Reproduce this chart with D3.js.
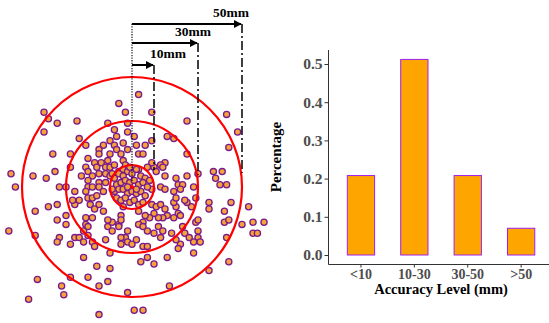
<!DOCTYPE html>
<html><head><meta charset="utf-8">
<script src="https://cdn.jsdelivr.net/npm/d3@7"></script>
<style>body{margin:0;background:#fff}svg{display:block}</style>
</head><body>
<script>
// ---------- Data ----------
// Positioning error of each trial, in mm (x to the right, y upward) relative to the target
const errorPointsMM = [
[3,42],[-6,38],[-3,34],[-2,29],[-40,34],[-38,31],[-34,29],[-25,30],[-40,25],[-11,29],[-8,26],[-10,21],[-7,23],[-4,20],[-2,25],[-24,22],[-21,19],[-13,19],[-8,19],[-15,17],[-7,17],[-5,15],[-2,17],[-4,12],[-36,15],[-28,15],[-15,15],[-11,12],[-10,15],[-20,13],[-21,9],[-17,11],[-16,9],[-14,11],[-12,9],[-10,9],[-8,10],[-3,10],[-55,6],[-45,5],[-39,4],[-35,7],[-28,9],[-23,5],[-20,7],[-18,5],[-20,3],[-15,6],[-12,6],[-10,5],[-15,2],[-12,2],[-9,6],[-6,7],[-4,8],[-53,0],[-33,0],[-30,0],[-20,0],[-18,0],
[9,34],[25,30],[43,33],[48,25],[44,18],[9,21],[16,23],[19,22],[25,15],[1,23],[3,15],[5,15],[15,11],[13,10],[10,9],[9,11],[11,7],[14,9],[15,5],[20,4],[21,1],[25,5],[30,6],[37,7],[41,7],[38,4],[40,1],[43,1],[23,1],[7,9],[3,8],
[-44,-11],[-38,-9],[-34,-8],[-34,-15],[-30,-13],[-30,-17],[-56,-20],[-44,-22],[-33,-23],[-34,-25],[-28,-26],[-26,-23],[-24,-23],[-22,-20],[-21,-17],[-22,-25],[-18,-25],[-12,-24],[-22,-32],[-16,-36],[-10,-37],[-20,-41],[-28,-41],[-43,-42],[-32,-45],[-31,-49],[-47,-51],[-11,-43],[-15,-45],[-2,-48],[-15,-58],[1,-56],[5,-56],[-26,-8],[-19,-8],[-17,-10],[-15,-8],[-21,-14],[-18,-14],[-11,-18],[-9,-16],[-9,-20],[-6,-17],[-2,-20],[-3,-23],[-2,-25],[-5,-23],[-5,-26],[0,-26],[-10,-30],[-26,-2],[-21,-2],[-15,0],[-13,-2],[-24,-6],[-20,-5],[-18,-5],[-16,-4],[-20,-18],[-20,-22],[-13,-11],[-11,-15],[-17,-27],[-5,-13],[-5,-15],[-6,-18],[-27,-6],
[35,-7],[35,-10],[45,-7],[42,-11],[53,-9],[42,-16],[44,-15],[50,-17],[55,-16],[60,-16],[55,-21],[57,-21],[43,-23],[44,-34],[35,-38],[17,-45],[30,-20],[30,-23],[31,-25],[28,-25],[28,-30],[16,-32],[10,-35],[7,-32],[4,-34],[22,-26],[21,-28],[18,-21],[23,-18],[24,-21],[29,-16],[27,-9],[29,-5],[25,-7],[24,-6],[20,-9],[19,-7],[21,-12],[19,-14],[16,-13],[14,-14],[12,-14],[10,-12],[8,-14],[6,-13],[5,-16],[7,-20],[10,-21],[13,-23],[5,-27],[20,-5],[19,-2],[22,-1],[28,0],[9,-8],[11,-9],[13,-8],[15,-10],[22,-13],[3,-11],[3,-17],[5,-18],[12,-18],[14,-20],[20,-24],[2,-24],[7,-27],[26,-23],[30,-15],[9,-1],[13,0],[15,-1],[2,19],[6,19],
[-8,4],[-6,6],[-4,5],[-2,7],[0,6],[2,8],[4,5],[6,4],[-7,1],[-5,2],[-3,3],[-1,2],[1,3],[3,1],[5,2],[7,0],[-8,-2],[-6,-1],[-4,-1],[-2,-3],[0,-2],[2,-3],[4,-2],[6,-4],[-7,-5],[-5,-6],[-3,-5],[-1,-7],[1,-6],[3,-8],[5,-7],[-9,-1],[8,3],[-1,9],[-4,-9],[-2,0],[2,-1]
];
const ringRadiiMM = [10, 30, 50];
const ringLabels = ["10mm", "30mm", "50mm"];

const categories = ["<10", "10-30", "30-50", ">50"];
const percentages = [0.208, 0.512, 0.208, 0.07];
const yTickValues = [0.0, 0.1, 0.2, 0.3, 0.4, 0.5];
const xTitle = "Accuracy Level (mm)";
const yTitle = "Percentage";

// ---------- Setup ----------
const W = 549, H = 323;
const svg = d3.select("body").append("svg").attr("width", W).attr("height", H);
const serif = "'Liberation Serif','Times New Roman',serif";

// ---------- Left: target scatter ----------
const sx = d3.scaleLinear().domain([-60, 60]).range([0, 264]);
const sy = d3.scaleLinear().domain([-60, 60]).range([319, 55]);
const cx = sx(0), cy = sy(0);

const left = svg.append("g");
left.selectAll("circle.pt").data(errorPointsMM).join("circle")
  .attr("class", "pt")
  .attr("cx", d => sx(d[0])).attr("cy", d => sy(d[1]))
  .attr("r", 3.1)
  .attr("fill", "#f2a33a").attr("stroke", "#7b1a8c").attr("stroke-width", 1.3);

left.selectAll("circle.ring").data(ringRadiiMM).join("circle")
  .attr("class", "ring")
  .attr("cx", cx).attr("cy", cy)
  .attr("r", d => sx(d) - sx(0))
  .attr("fill", "none").attr("stroke", "#ff0000").attr("stroke-width", 2.2);

left.append("circle").attr("cx", cx).attr("cy", cy).attr("r", 2).attr("fill", "#ff0000");

// arrow marker
svg.append("defs").append("marker")
  .attr("id", "ah").attr("viewBox", "0 0 10 10").attr("refX", 9).attr("refY", 5)
  .attr("markerWidth", 4).attr("markerHeight", 4).attr("orient", "auto")
  .attr("markerUnits", "strokeWidth")
  .append("path").attr("d", "M0,0 L10,5 L0,10 z").attr("fill", "#000");

// annotation layout (pixels)
const arrowY = [65, 43, 24];
const lineBottom = [170, 175, 173];
const labelX = [150, 175, 213];

// dotted line up from the centre
left.append("line").attr("x1", cx).attr("x2", cx).attr("y1", 181).attr("y2", 23)
  .attr("stroke", "#000").attr("stroke-width", 1.1).attr("stroke-dasharray", "1.3,1.3");

ringRadiiMM.forEach((r, i) => {
  const xr = sx(r);
  left.append("line").attr("x1", xr).attr("x2", xr).attr("y1", arrowY[i]).attr("y2", lineBottom[i])
    .attr("stroke", "#000").attr("stroke-width", 1.5).attr("stroke-dasharray", "9,3,2,3");
  left.append("line").attr("x1", cx).attr("x2", xr - 1).attr("y1", arrowY[i]).attr("y2", arrowY[i])
    .attr("stroke", "#000").attr("stroke-width", 2).attr("marker-end", "url(#ah)");
  left.append("text").attr("x", labelX[i]).attr("y", arrowY[i] - 7)
    .attr("text-anchor", "start")
    .attr("font-family", serif).attr("font-weight", "bold").attr("font-size", 13.5)
    .attr("fill", "#000").text(ringLabels[i]);
});

// ---------- Right: bar chart ----------
const xb = d3.scaleBand().domain(categories).range([329, 553.1]).paddingInner(0.489).paddingOuter(0.343);
const yb = d3.scaleLinear().domain([0, 0.5]).range([255, 64]);
const axisX0 = 328.5, axisY0 = 264.5;

const right = svg.append("g");
right.selectAll("rect").data(categories).join("rect")
  .attr("x", d => xb(d)).attr("width", xb.bandwidth())
  .attr("y", (d, i) => yb(percentages[i]))
  .attr("height", (d, i) => yb(0) - yb(percentages[i]))
  .attr("fill", "#ffa500").attr("stroke", "#a020f0").attr("stroke-width", 1);

// y axis
const gy = right.append("g").attr("transform", `translate(${axisX0},0)`)
  .call(d3.axisLeft(yb).tickValues(yTickValues).tickFormat(d3.format(".1f")).tickSize(4).tickPadding(2));
gy.select(".domain").remove();
gy.selectAll("line").attr("stroke", "#333");
gy.selectAll("text").attr("font-family", serif).attr("font-weight", "bold").attr("font-size", 15.5).attr("fill", "#4d4d4d");

// x axis
const gx = right.append("g").attr("transform", `translate(0,${axisY0})`)
  .call(d3.axisBottom(xb).tickSize(3).tickPadding(2));
gx.select(".domain").remove();
gx.selectAll("line").attr("stroke", "#333");
gx.selectAll("text").attr("font-family", serif).attr("font-weight", "bold").attr("font-size", 14).attr("fill", "#4d4d4d");

right.append("line").attr("x1", axisX0).attr("x2", axisX0).attr("y1", 50).attr("y2", axisY0)
  .attr("stroke", "#333").attr("stroke-width", 1);
right.append("line").attr("x1", axisX0).attr("x2", W).attr("y1", axisY0).attr("y2", axisY0)
  .attr("stroke", "#333").attr("stroke-width", 1);

right.append("text").attr("x", 441).attr("y", 294).attr("text-anchor", "middle")
  .attr("font-family", serif).attr("font-weight", "bold").attr("font-size", 14.5).attr("fill", "#000")
  .text(xTitle);
right.append("text").attr("transform", "translate(281,157) rotate(-90)").attr("text-anchor", "middle")
  .attr("font-family", serif).attr("font-weight", "bold").attr("font-size", 15).attr("fill", "#000")
  .text(yTitle);
</script>
</body></html>
